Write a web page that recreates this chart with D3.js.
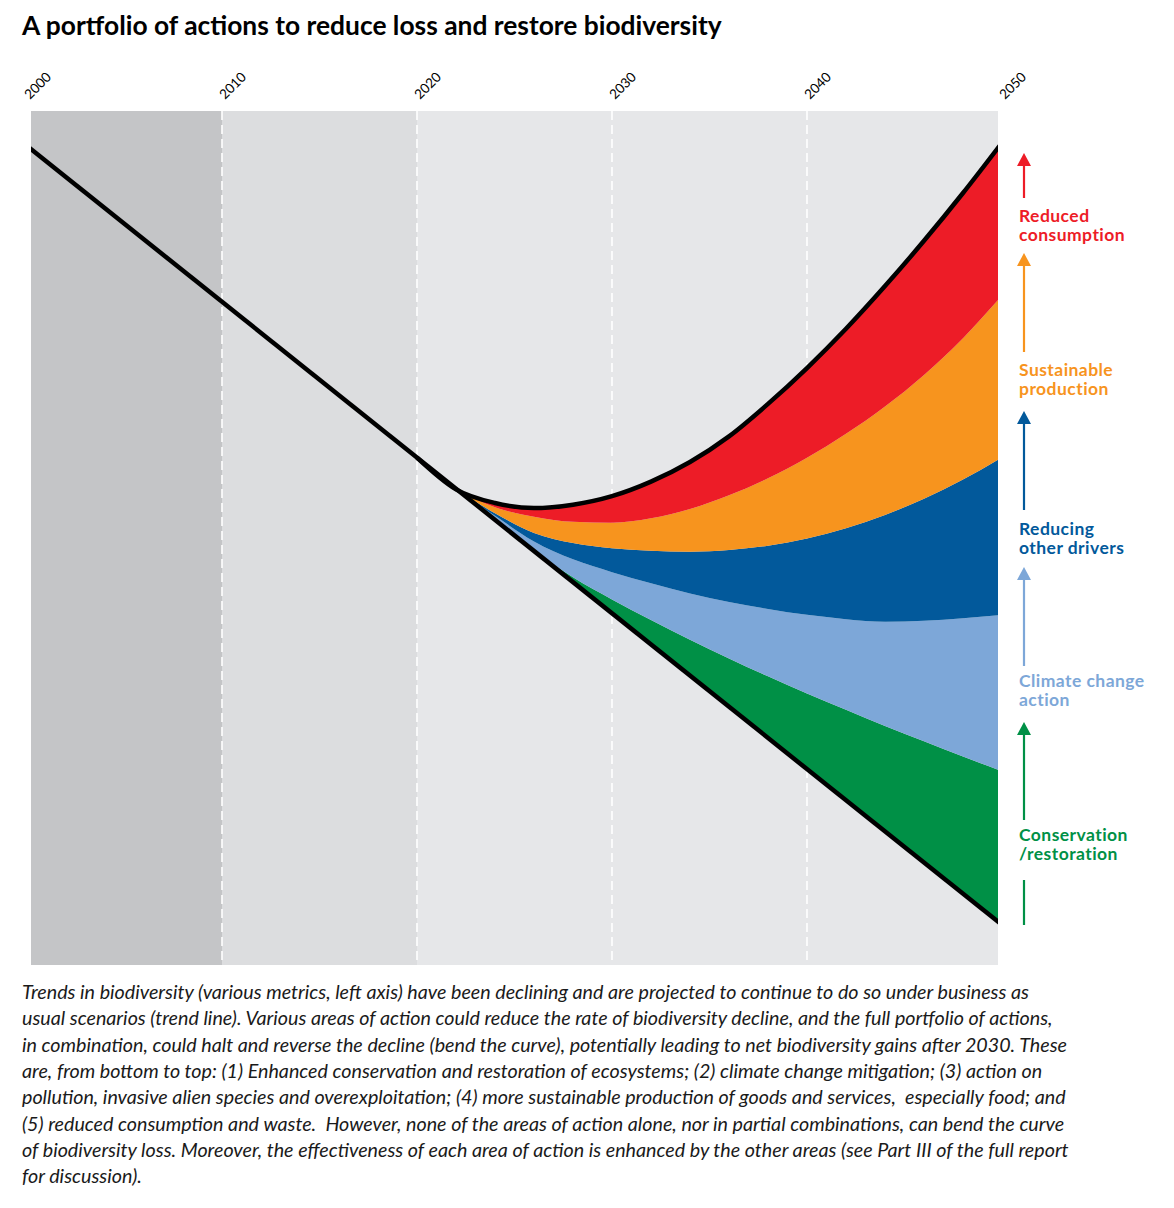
<!DOCTYPE html>
<html><head><meta charset="utf-8">
<script src="https://cdn.jsdelivr.net/npm/d3@7"></script>
<style>body{margin:0;background:#fff}</style>
</head><body>
<svg id="c" width="1174" height="1208"></svg>
<script>
// ---------------- DATA ----------------
const title = "A portfolio of actions to reduce loss and restore biodiversity";
const tickYears = [2010, 2020, 2030, 2040];
const labelYears = [2000, 2010, 2020, 2030, 2040, 2050];
const eraBreaks = [2000, 2010, 2020, 2050];
const eraColors = ["#c4c5c7", "#dcdddf", "#e6e7e9"];

// business-as-usual trend (biodiversity index)
const trendYears = [2000, 2050];
const trendValues = [95.9, 4.7];

// upper boundary of each cumulative action band
const years = [2022, 2024, 2026, 2028, 2030, 2032, 2034, 2036, 2038, 2040, 2042, 2044, 2046, 2048, 2050];
const conservationTop = [55.7, 52.1, 48.5, 45.4, 42.8, 40.4, 38.1, 35.9, 33.8, 31.8, 29.9, 28.0, 26.2, 24.4, 22.7];
const climateTop      = [55.7, 52.6, 49.6, 47.5, 46.0, 44.7, 43.5, 42.5, 41.7, 41.0, 40.5, 40.2, 40.3, 40.6, 41.0];
const otherDriversTop = [55.7, 52.9, 50.6, 49.4, 48.8, 48.5, 48.4, 48.6, 49.1, 49.95, 51.15, 52.7, 54.6, 56.85, 59.45];
const productionTop   = [55.7, 53.6, 52.5, 51.9, 51.8, 52.3, 53.4, 55.0, 57.0, 59.4, 62.2, 65.4, 69.1, 73.4, 78.4];
const consumptionTop  = [55.7, 54.1, 53.5, 53.9, 54.9, 56.6, 58.9, 61.9, 65.7, 69.9, 74.5, 79.5, 84.8, 90.4, 96.3];

const seriesLabels = [["Conservation", "/restoration"], ["Climate change", "action"], ["Reducing", "other drivers"], ["Sustainable", "production"], ["Reduced", "consumption"]];
const seriesColors = ["#009046", "#7da7d8", "#02599b", "#f7941e", "#ed1c27"];

const captionLines = [
  "Trends in biodiversity (various metrics, left axis) have been declining and are projected to continue to do so under business as",
  "usual scenarios (trend line). Various areas of action could reduce the rate of biodiversity decline, and the full portfolio of actions,",
  "in combination, could halt and reverse the decline (bend the curve), potentially leading to net biodiversity gains after 2030. These",
  "are, from bottom to top: (1) Enhanced conservation and restoration of ecosystems; (2) climate change mitigation; (3) action on",
  "pollution, invasive alien species and overexploitation; (4) more sustainable production of goods and services,  especially food; and",
  "(5) reduced consumption and waste.  However, none of the areas of action alone, nor in partial combinations, can bend the curve",
  "of biodiversity loss. Moreover, the effectiveness of each area of action is enhanced by the other areas (see Part III of the full report",
  "for discussion)."
];

// ---------------- LAYOUT ----------------
const plot = {left: 31, right: 998, top: 111, bottom: 965};
const svg = d3.select("#c");
const x = d3.scaleLinear().domain([2000, 2050]).range([27, 1002]);
const y = d3.scaleLinear().domain([0, 100]).range([965, 111]);
const trend = d3.scaleLinear().domain(trendYears).range(trendValues);

function fitWidth(sel, target, base) {
  sel.attr("font-size", base);
  const w = sel.node().getComputedTextLength();
  sel.attr("font-size", base * target / w);
}

// title
const t = svg.append("text").attr("x", 22).attr("y", 35)
  .attr("font-family", "Lato").attr("font-weight", 700).attr("fill", "#000")
  .text(title);
fitWidth(t, 700, 23);

// clip
svg.append("clipPath").attr("id", "clip").append("rect")
  .attr("x", plot.left).attr("y", plot.top)
  .attr("width", plot.right - plot.left).attr("height", plot.bottom - plot.top);
const g = svg.append("g").attr("clip-path", "url(#clip)");

// backgrounds
for (let i = 0; i < eraColors.length; i++) {
  const x0 = Math.max(x(eraBreaks[i]), plot.left), x1 = Math.min(x(eraBreaks[i + 1]), plot.right);
  g.append("rect").attr("x", x0).attr("y", plot.top).attr("width", x1 - x0)
    .attr("height", plot.bottom - plot.top).attr("fill", eraColors[i]);
}
// dashed gridlines
g.selectAll("line.grid").data(tickYears).join("line")
  .attr("x1", d => x(d)).attr("x2", d => x(d))
  .attr("y1", plot.top).attr("y2", plot.bottom)
  .attr("stroke", "#fff").attr("stroke-width", 1.6).attr("stroke-dasharray", "9,5");

// bands
const bounds = [years.map(yr => trend(yr)), conservationTop, climateTop, otherDriversTop, productionTop, consumptionTop];
const area = d3.area().x(d => x(d.yr)).y0(d => y(d.lo)).y1(d => y(d.hi)).curve(d3.curveMonotoneX);
for (let i = 0; i < 5; i++) {
  const data = years.map((yr, j) => ({yr, lo: bounds[i][j], hi: bounds[i + 1][j]}));
  g.append("path").attr("d", area(data)).attr("fill", seriesColors[i]);
}

// lines
const line = d3.line().x(d => x(d[0])).y(d => y(d[1])).curve(d3.curveMonotoneX);
g.append("path").attr("d", d3.line().x(d => x(d[0])).y(d => y(d[1]))(trendYears.map((yr, i) => [yr, trendValues[i]])))
  .attr("fill", "none").attr("stroke", "#000").attr("stroke-width", 4.5);
const topPts = [[2020, trend(2020)]].concat(years.map((yr, j) => [yr, consumptionTop[j]]));
g.append("path").attr("d", line(topPts))
  .attr("fill", "none").attr("stroke", "#000").attr("stroke-width", 4.5);

// year labels
svg.selectAll("text.yr").data(labelYears).join("text")
  .attr("transform", d => `translate(${x(d) + 3},100) rotate(-45)`)
  .attr("font-family", "Lato").attr("font-size", 13.5).attr("fill", "#000")
  .text(d => d);

// right-side arrows and labels (bottom to top)
const arrowX = 1024;
const arrowLayout = [
  {tip: 722, end: 820, lab: 841},
  {tip: 567, end: 666, lab: 687},
  {tip: 411, end: 510, lab: 535},
  {tip: 253, end: 352, lab: 376},
  {tip: 153, end: 198, lab: 222}
];
arrowLayout.forEach((a, i) => {
  const c = seriesColors[i];
  svg.append("line").attr("x1", arrowX).attr("x2", arrowX).attr("y1", a.tip + 10).attr("y2", a.end)
    .attr("stroke", c).attr("stroke-width", 2.2);
  svg.append("path").attr("d", `M${arrowX},${a.tip} L${arrowX + 7},${a.tip + 13} L${arrowX - 7},${a.tip + 13} Z`).attr("fill", c);
  const tx = svg.append("text").attr("x", 1019).attr("y", a.lab)
    .attr("font-family", "Lato").attr("font-weight", 700).attr("font-size", 17.5)
    .attr("letter-spacing", 0.45).attr("fill", c);
  seriesLabels[i].forEach((s, k) => tx.append("tspan").attr("x", 1019).attr("dy", k ? 19 : 0).text(s));
});
svg.append("line").attr("x1", arrowX).attr("x2", arrowX).attr("y1", 880).attr("y2", 925)
  .attr("stroke", seriesColors[0]).attr("stroke-width", 2.2);

// caption
const cap = svg.append("g").attr("font-family", "Lato").attr("font-style", "italic").attr("fill", "#1a1a1a")
  .style("white-space", "pre");
const capT = cap.selectAll("text").data(captionLines).join("text")
  .attr("x", 22).attr("y", (d, i) => 999 + i * 26.3).attr("font-size", 17)
  .attr("xml:space", "preserve").text(d => d);
const w7 = capT.nodes()[6].getComputedTextLength();
capT.attr("font-size", 17 * 1047 / w7);
</script>
</body></html>
